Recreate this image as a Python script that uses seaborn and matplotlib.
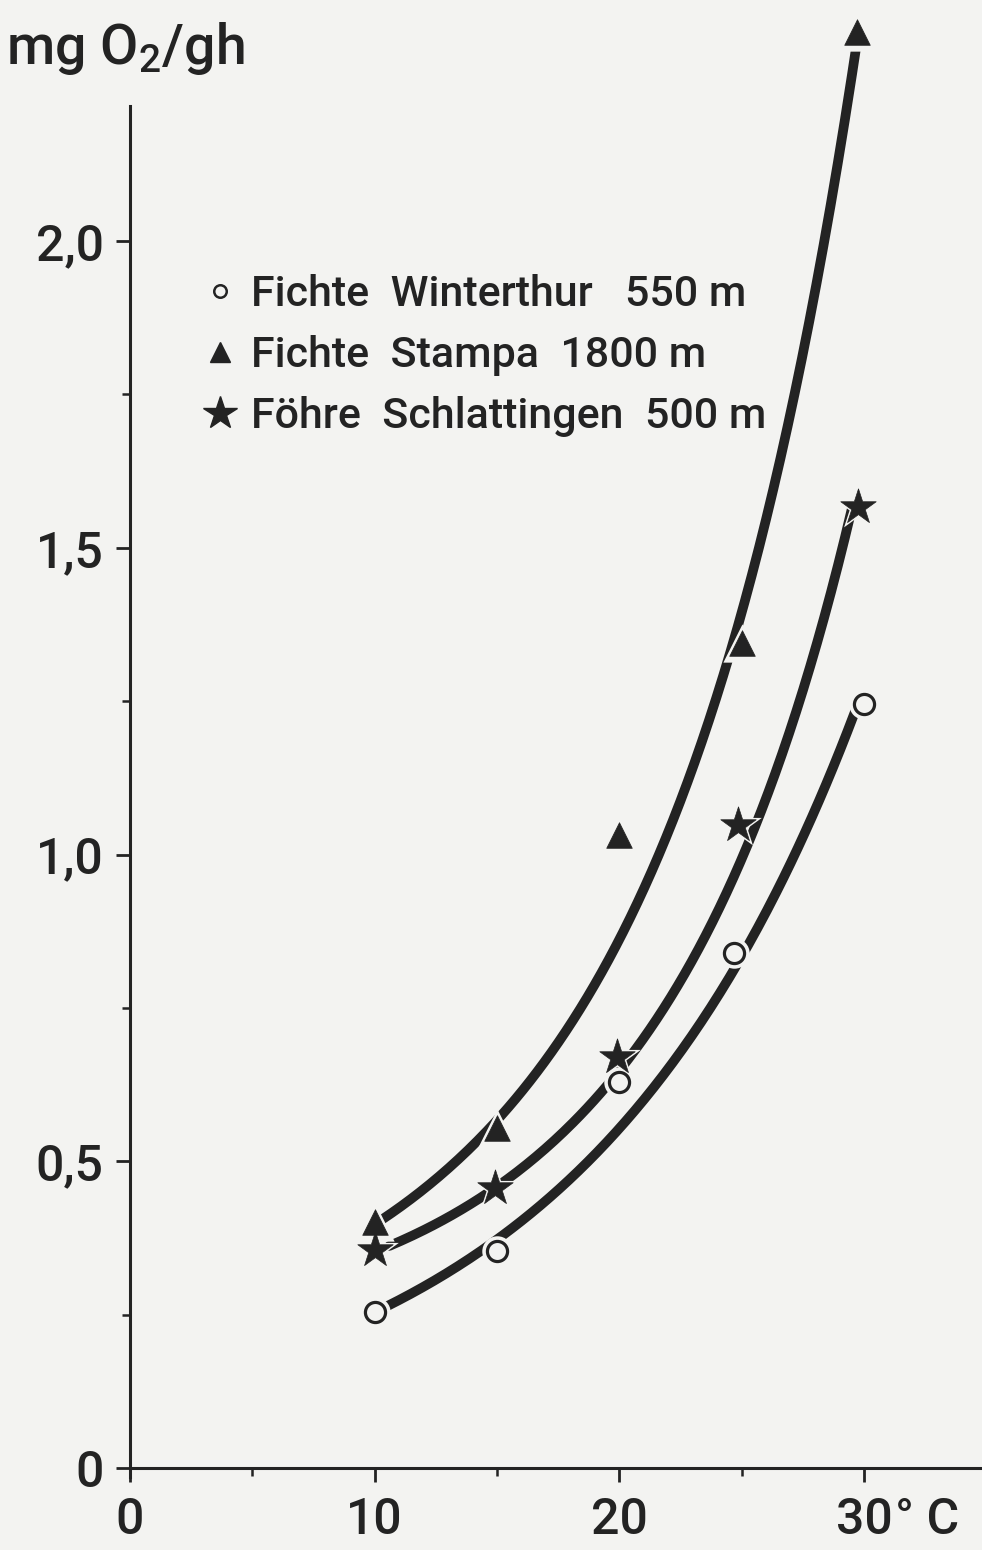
import numpy as np
import pandas as pd
import matplotlib
matplotlib.use("Agg")
import matplotlib.pyplot as plt
import seaborn as sns
from matplotlib.lines import Line2D

# ---------------- data ----------------
series_labels = ["Fichte  Winterthur   550 m",
                 "Fichte  Stampa  1800 m",
                 "Föhre  Schlattingen  500 m"]

# measured points (temperature °C, mg O2 / g h)
win_x = [10, 15, 20, 24.7, 30]
win_y = [0.254, 0.353, 0.629, 0.839, 1.246]
sta_x = [10, 15, 20, 25, 29.7]
sta_y = [0.401, 0.554, 1.032, 1.345, 2.340]
sch_x = [10, 14.9, 19.9, 24.85, 29.75]
sch_y = [0.355, 0.456, 0.670, 1.048, 1.566]

# hand-drawn smoothing curves: readings along each curve
win_cx = [10.5, 15, 20, 24.7, 29.7]
win_cy = [0.27, 0.355, 0.56, 0.839, 1.22]
sta_cx = [10.3, 15, 20, 24.5, 29.7]
sta_cy = [0.409, 0.555, 0.87, 1.337, 2.31]
sch_cx = [10.6, 15, 20, 25, 29.5]
sch_cy = [0.365, 0.455, 0.635, 1.03, 1.54]

x_ticks_major = [0, 10, 20, 30]
x_tick_labels = ["0", "10", "20", "30"]
x_ticks_minor = [5, 15, 25]
y_ticks_major = [0, 0.5, 1.0, 1.5, 2.0]
y_tick_labels = ["0", "0,5", "1,0", "1,5", "2,0"]
y_ticks_minor = [0.25, 0.75, 1.25, 1.75]

# ---------------- style ----------------
ink = "#232323"
paper = "#f3f3f1"
sns.set_theme(style="ticks")
plt.rcParams["font.family"] = ["Roboto", "DejaVu Sans"]
plt.rcParams["font.weight"] = "medium"
plt.rcParams["mathtext.fontset"] = "custom"
plt.rcParams["mathtext.rm"] = "Roboto:medium"
plt.rcParams["mathtext.it"] = "Roboto:medium"
plt.rcParams["mathtext.bf"] = "Roboto:bold"

fig = plt.figure(figsize=(9.82, 15.5), dpi=100, facecolor=paper)
ax = fig.add_axes([0.1324, 0.0410, 0.8672, 0.9539])
ax.set_facecolor(paper)
ax.set_xlim(0, 34.8)
ax.set_ylim(-0.03, 2.38)


def smooth_curve(cx, cy, n=200):
    coef = np.polyfit(cx, np.log(cy), 2)
    xs = np.linspace(cx[0], cx[-1], n)
    return xs, np.exp(np.polyval(coef, xs))


curves = []
for name, cx, cy in [("win", win_cx, win_cy), ("sta", sta_cx, sta_cy), ("sch", sch_cx, sch_cy)]:
    xs, ys = smooth_curve(cx, cy)
    curves.append(pd.DataFrame({"x": xs, "y": ys, "series": name}))
curve_df = pd.concat(curves, ignore_index=True)

sns.lineplot(data=curve_df, x="x", y="y", hue="series", units="series",
             estimator=None, sort=False, palette=[ink, ink, ink],
             linewidth=7, legend=False, ax=ax, zorder=2,
             solid_capstyle="round")

pts = [
    (win_x, win_y, "o", 210, paper, 2.3, 480),
    (sta_x, sta_y, "^", 340, ink, 0.5, 760),
    (sch_x, sch_y, "*", 720, ink, 0.5, 1250),
]
# halos that break the curves around the markers
for xv, yv, m, s, fc, lw, hs in pts:
    sns.scatterplot(x=xv, y=yv, marker=m, s=hs, color=paper, edgecolor=paper,
                    linewidth=0, ax=ax, zorder=3, clip_on=False, legend=False)
for xv, yv, m, s, fc, lw, hs in pts:
    sns.scatterplot(x=xv, y=yv, marker=m, s=s, color=fc, edgecolor=ink,
                    linewidth=lw, ax=ax, zorder=4, clip_on=False, legend=False)

# ---------------- axes ----------------
for side in ["top", "right"]:
    ax.spines[side].set_visible(False)
ax.spines["left"].set_bounds(-0.015, 2.22)
ax.spines["bottom"].set_position(("data", 0))
for side in ["left", "bottom"]:
    ax.spines[side].set_linewidth(2.2)
    ax.spines[side].set_color(ink)

ax.set_xticks(x_ticks_major)
ax.set_xticklabels(x_tick_labels)
ax.set_xticks(x_ticks_minor, minor=True)
ax.set_yticks(y_ticks_major)
ax.set_yticklabels(y_tick_labels)
ax.set_yticks(y_ticks_minor, minor=True)
ax.tick_params(which="major", direction="out", length=10, width=2.0,
               color=ink, labelcolor=ink, labelsize=36)
ax.tick_params(axis="x", which="major", pad=10)
ax.tick_params(axis="y", which="major", pad=9)
ax.tick_params(which="minor", direction="out", length=6, width=1.8, color=ink)
ax.set_xlabel("")
ax.set_ylabel("")

ax.annotate("° C", xy=(30, 0), xycoords="data", xytext=(22, -20),
            textcoords="offset points", ha="left", va="top",
            fontsize=36, color=ink)
fig.text(6 / 982, 1 - 64 / 1550, "mg O$_\\mathrm{2}$/gh", fontsize=40,
         color=ink, ha="left", va="baseline")

# ---------------- legend ----------------
handles = [
    Line2D([], [], linestyle="none", marker="o", markersize=9,
           markerfacecolor=paper, markeredgecolor=ink, markeredgewidth=1.8),
    Line2D([], [], linestyle="none", marker="^", markersize=15,
           markerfacecolor=ink, markeredgecolor=ink),
    Line2D([], [], linestyle="none", marker="*", markersize=25,
           markerfacecolor=ink, markeredgecolor=ink),
]
leg = ax.legend(handles, series_labels, loc="upper left",
                bbox_to_anchor=(198 / 982, 1 - 274 / 1550),
                bbox_transform=fig.transFigure, frameon=False,
                fontsize=31, handlelength=1.0, handletextpad=0.22,
                labelspacing=0.47, borderpad=0, borderaxespad=0)
for t in leg.get_texts():
    t.set_color(ink)

fig.savefig("out.png", dpi=100, facecolor=paper)
